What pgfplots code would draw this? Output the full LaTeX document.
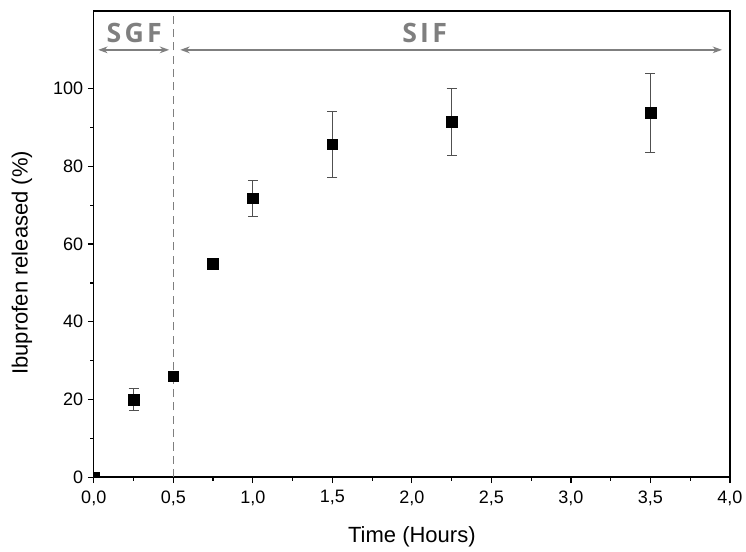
\documentclass[border=0pt]{standalone}
\usepackage{pgfplots}
\pgfplotsset{compat=1.18}
\usepackage{fontspec}
\setmainfont{Liberation Sans}
\newfontfamily\labfont[LetterSpace=12]{Open Sans}
\usetikzlibrary{arrows.meta}
\definecolor{lblgray}{HTML}{7F7F7F}
\definecolor{errgray}{HTML}{505050}
\begin{document}
\begin{tikzpicture}
\begin{axis}[
  scale only axis,
  width=477pt, height=349.5pt,
  xmin=0, xmax=4, ymin=0, ymax=120,
  xtick={0,0.5,...,4}, minor x tick num=1,
  ytick={0,20,40,60,80,100}, minor y tick num=1,
  tick align=outside,
  major tick length=4.5pt, minor tick length=2.5pt,
  xtick pos=bottom, ytick pos=left,
  axis line style={line width=1.1pt},
  every tick/.style={line width=0.9pt, black},
  /pgf/number format/assume math mode=true,
  xticklabel style={/pgf/number format/use comma, /pgf/number format/fixed, /pgf/number format/fixed zerofill, /pgf/number format/precision=1, yshift=-2pt},
  ticklabel style={font=\fontsize{13.5}{15}\selectfont},
  xlabel={Time (Hours)}, ylabel={Ibuprofen released (\%)},
  label style={font=\fontsize{16.5}{19}\selectfont},
  xlabel style={at={(rel axis cs:0.5,0)}, anchor=center, yshift=-45pt},
  ylabel style={at={(rel axis cs:0,0.46)}, anchor=center, yshift=53.8pt},
  clip marker paths=true,
]
\coordinate (SW) at (rel axis cs:0,0);
\coordinate (NE) at (rel axis cs:1,1);
\draw[lblgray, dashed, line width=0.8pt, dash pattern=on 6pt off 4pt] (axis cs:0.5,0) -- (axis cs:0.5,120);
\addplot[only marks, mark=square*, mark size=4pt, black,
  error bars/.cd, y dir=both, y explicit,
  error bar style={errgray, line width=0.8pt},
  error mark options={rotate=90, mark size=3.75pt, errgray, line width=0.8pt}]
  table[x=x, y=y, y error=e] {
x y e
0 0 0
0.25 19.9 2.85
0.5 26.0 0
0.75 55.0 1.0
1.0 71.8 4.6
1.5 85.7 8.5
2.25 91.5 8.6
3.5 93.8 10.2
};
\draw[lblgray, line width=1.2pt, {Stealth[length=7pt,width=5pt]}-{Stealth[length=7pt,width=5pt]}] (axis cs:0.028,110) -- (axis cs:0.474,110);
\draw[lblgray, line width=1.2pt, {Stealth[length=7pt,width=5pt]}-{Stealth[length=7pt,width=5pt]}] (axis cs:0.544,110) -- (axis cs:3.95,110);
\node[lblgray, font=\labfont\bfseries\fontsize{20}{22}\selectfont, anchor=center] at (axis cs:0.254,114.3) {SGF};
\node[lblgray, font=\labfont\bfseries\fontsize{20}{22}\selectfont, anchor=center] at (axis cs:2.08,114.3) {SIF};
\end{axis}
\pgfresetboundingbox
\path ([shift={(-70.3pt,-55.5pt)}]SW) rectangle ([shift={(12pt,8.25pt)}]NE);
\end{tikzpicture}
\end{document}
